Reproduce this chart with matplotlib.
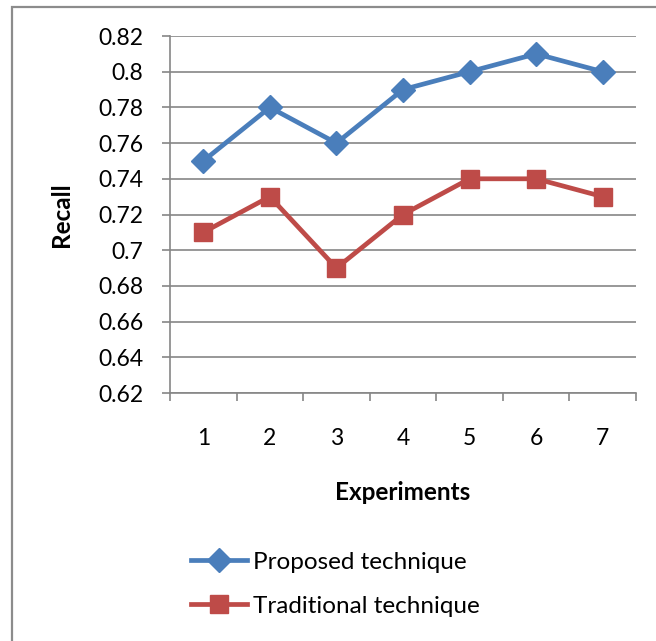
import matplotlib.pyplot as plt
from matplotlib.patches import Rectangle

experiments = [1, 2, 3, 4, 5, 6, 7]
proposed = [0.75, 0.78, 0.76, 0.79, 0.80, 0.81, 0.80]
traditional = [0.71, 0.73, 0.69, 0.72, 0.74, 0.74, 0.73]
yticks = [0.62, 0.64, 0.66, 0.68, 0.70, 0.72, 0.74, 0.76, 0.78, 0.80, 0.82]
ytick_labels = ["0.62", "0.64", "0.66", "0.68", "0.7", "0.72", "0.74",
                "0.76", "0.78", "0.8", "0.82"]

plt.rcParams['font.family'] = ['Lato', 'DejaVu Sans']

W, H = 656, 641
fig = plt.figure(figsize=(W / 100, H / 100), dpi=100)

# chart border (runs off the bottom and right edges)
fig.patches.append(Rectangle((12 / W, -20 / H), 700 / W, (H - 7 + 20) / H,
                             transform=fig.transFigure, fill=False,
                             edgecolor='#8c8c8c', linewidth=1.6))

ax = fig.add_axes([170 / W, 1 - 393 / H, 466 / W, 357 / H])
x = [e - 0.5 for e in experiments]
ax.plot(x, proposed, color='#4A7EBB', linewidth=3.4, marker='D',
        markersize=12, label='Proposed technique')
ax.plot(x, traditional, color='#BE4B48', linewidth=3.4, marker='s',
        markersize=13, label='Traditional technique')

ax.set_xlim(0, 7)
ax.set_ylim(0.62, 0.82)
ax.set_yticks(yticks)
ax.set_yticklabels(ytick_labels, fontsize=16.5)
ax.set_xticks(range(8))
ax.set_xticklabels([])
ax.set_xticks(x, minor=True)
ax.set_xticklabels([str(e) for e in experiments], minor=True, fontsize=16.5)
ax.tick_params(axis='x', which='major', length=6, color='#868686', width=1.2,
               direction='out')
ax.tick_params(axis='x', which='minor', length=0, pad=25)
ax.tick_params(axis='y', length=6, color='#868686', width=1.2, pad=13)
ax.grid(axis='y', color='#868686', linewidth=1.2)
for side in ['top', 'right']:
    ax.spines[side].set_visible(False)
for side in ['left', 'bottom']:
    ax.spines[side].set_color('#868686')
    ax.spines[side].set_linewidth(1.2)

ax.set_xlabel('Experiments', fontsize=17.5, fontweight='bold', labelpad=23)
ax.set_ylabel('Recall', fontsize=17.5, fontweight='bold', labelpad=18)

fig.legend(loc='upper left', bbox_to_anchor=(169 / W, 1 - 530 / H),
           frameon=False, fontsize=17.5, handlelength=2.3, labelspacing=0.95,
           handletextpad=0.25)

fig.savefig('out.png', dpi=100)
